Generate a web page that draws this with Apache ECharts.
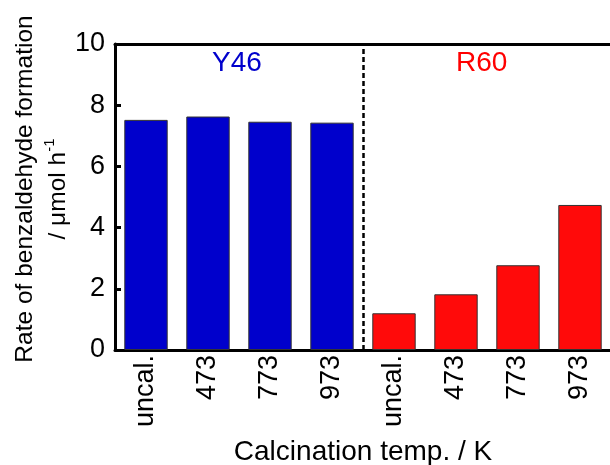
<!DOCTYPE html>
<html>
<head>
<meta charset="utf-8">
<script src="https://cdn.jsdelivr.net/npm/echarts@6/dist/echarts.min.js"></script>
<style>
  html, body { margin: 0; padding: 0; background: #fff; }
  #chart { width: 610px; height: 465px; }
</style>
</head>
<body>
<div id="chart"></div>
<script>
// calcination temperatures, Y46 then R60
const categories = ['uncal.', '473', '773', '973', 'uncal.', '473', '773', '973']
const y46Rates = [7.52, 7.63, 7.46, 7.43]
const r60Rates = [1.2, 1.82, 2.77, 4.74]
const yTicks = [0, 2, 4, 6, 8, 10]

const font = 'Liberation Sans, Arial, sans-serif'
const blank = ['-', '-', '-', '-']

const chart = echarts.init(document.getElementById('chart'))

chart.setOption({
	animation: false,
	textStyle: { fontFamily: font },
	grid: { left: 115, right: -1, top: 44, bottom: 115, outerBoundsMode: 'none', containLabel: false },
	graphic: [
		{ type: 'text', left: 212, top: 49, style: { text: 'Y46', fill: '#0000cc', font: '28px ' + font } },
		{ type: 'text', left: 456, top: 49, style: { text: 'R60', fill: '#ff0000', font: '28px ' + font } }
	],
	xAxis: [
		{
			type: 'category',
			data: categories,
			boundaryGap: true,
			name: 'Calcination temp. / K',
			nameLocation: 'middle',
			nameGap: 88,
			nameMoveOverlap: false,
			nameTextStyle: { color: '#000', fontSize: 28, fontFamily: font },
			axisLine: { lineStyle: { color: '#000', width: 3 } },
			axisTick: { inside: true, length: 6, lineStyle: { color: '#000', width: 3 } },
			axisLabel: { rotate: 90, color: '#000', fontSize: 27, margin: 5, fontFamily: font }
		},
		{
			// top frame line + position reference for the dashed divider
			type: 'value',
			position: 'top',
			min: 0,
			max: categories.length,
			axisLine: { show: true, lineStyle: { color: '#000', width: 3 } },
			axisTick: { show: false },
			axisLabel: { show: false },
			splitLine: { show: false }
		}
	],
	yAxis: {
		type: 'value',
		min: yTicks[0],
		max: yTicks[yTicks.length - 1],
		interval: 2,
		name: 'Rate of benzaldehyde formation\n/ μmol h{sup|-1}',
		nameLocation: 'middle',
		nameGap: 40,
		nameMoveOverlap: false,
		nameTextStyle: {
			color: '#000',
			fontSize: 24.5,
			lineHeight: 33,
			fontFamily: font,
			padding: [0, 0, 0, 16],
			rich: {
				sup: { fontSize: 15, verticalAlign: 'top', lineHeight: 33, color: '#000', fontFamily: font }
			}
		},
		axisLine: { show: true, lineStyle: { color: '#000', width: 3 } },
		axisTick: { show: true, inside: true, length: 6, lineStyle: { color: '#000', width: 3 } },
		axisLabel: { color: '#000', fontSize: 27, margin: 10, fontFamily: font },
		splitLine: { show: false }
	},
	series: [
		{
			name: 'Y46',
			type: 'bar',
			barWidth: '70%',
			barGap: '-100%',
			itemStyle: { color: '#0000cc', borderColor: '#333', borderWidth: 1 },
			data: y46Rates.concat(blank)
		},
		{
			name: 'R60',
			type: 'bar',
			barWidth: '70%',
			barGap: '-100%',
			itemStyle: { color: '#ff0a0a', borderColor: '#333', borderWidth: 1 },
			data: blank.concat(r60Rates)
		},
		{
			type: 'line',
			xAxisIndex: 1,
			data: [],
			markLine: {
				silent: true,
				symbol: 'none',
				label: { show: false },
				lineStyle: { color: '#000', width: 2.5, type: [5, 3] },
				data: [{ xAxis: y46Rates.length }]
			}
		}
	]
})
</script>
</body>
</html>
